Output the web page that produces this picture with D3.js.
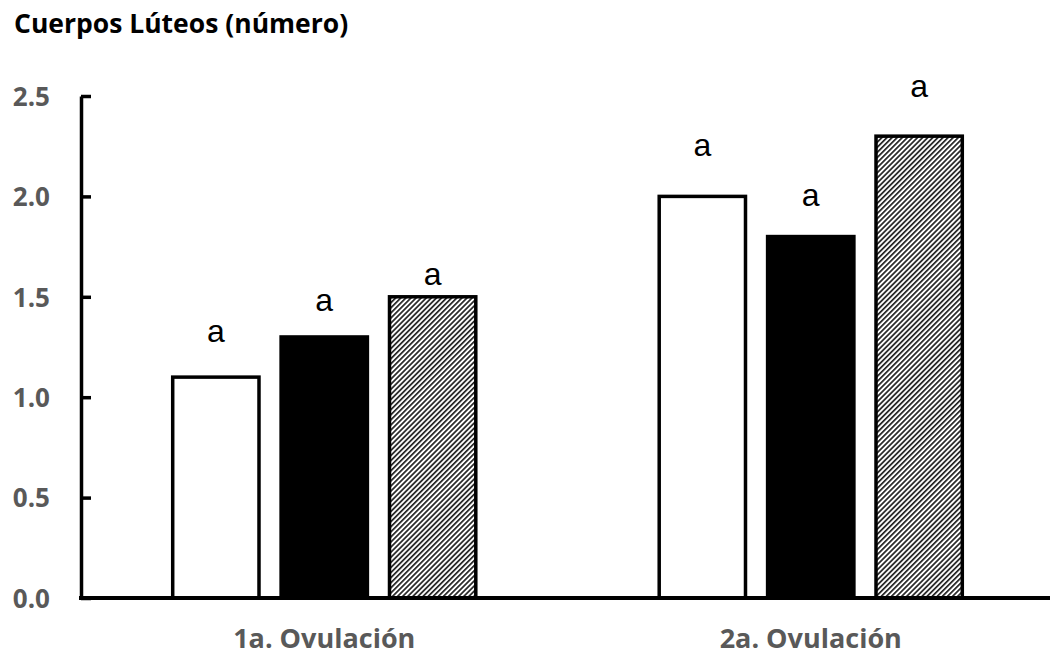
<!DOCTYPE html>
<html>
<head>
<meta charset="utf-8">
<script src="https://cdn.jsdelivr.net/npm/d3@7"></script>
<style>
  html, body { margin: 0; padding: 0; background: #fff; }
  svg { display: block; }
</style>
</head>
<body>
<svg id="chart" width="1050" height="656"></svg>
<script>
// Corpora lutea counts per ovulation and treatment
const groups = ["1a. Ovulación", "2a. Ovulación"];
const series = ["s1", "s2", "s3"];
const values = [
  [1.1, 1.3, 1.5],
  [2.0, 1.8, 2.3]
];
// Significance letters and the height (in data units) where each sits
const letters = [
  ["a", "a", "a"],
  ["a", "a", "a"]
];
const letterY = [
  [1.275, 1.43, 1.56],
  [2.2, 1.95, 2.495]
];
const yTicks = [0, 0.5, 1.0, 1.5, 2.0, 2.5];
const title = "Cuerpos Lúteos (número)";

const svg = d3.select("#chart");
const margin = { left: 81, right: 0, top: 96, bottom: 58 };
const W = 1050, H = 656;
const x0 = d3.scaleBand().domain(groups).range([margin.left, 1054]).paddingInner(0.377).paddingOuter(0.1885);
const x1 = d3.scaleBand().domain(series).range([0, x0.bandwidth()]).paddingInner(0.204).paddingOuter(0);
const y = d3.scaleLinear().domain([0, 2.5]).range([598, 96]);

// hatch fill for the third series
const defs = svg.append("defs");
const pat = defs.append("pattern")
  .attr("id", "hatch")
  .attr("patternUnits", "userSpaceOnUse")
  .attr("width", 3.6).attr("height", 10)
  .attr("patternTransform", "rotate(45)");
pat.append("rect").attr("width", 3.6).attr("height", 10).attr("fill", "#fff");
pat.append("rect").attr("width", 1.7).attr("height", 10).attr("fill", "#222");

const fills = { s1: "#fff", s2: "#000", s3: "url(#hatch)" };

// title
svg.append("text")
  .attr("x", 14).attr("y", 33)
  .attr("font-family", "'Open Sans', sans-serif")
  .attr("font-weight", "bold")
  .attr("font-size", 26.5)
  .attr("fill", "#000")
  .text(title);

// bars
const g = svg.append("g");
groups.forEach((grp, gi) => {
  series.forEach((s, si) => {
    const v = values[gi][si];
    g.append("rect")
      .attr("x", x0(grp) + x1(s))
      .attr("y", y(v))
      .attr("width", x1.bandwidth())
      .attr("height", y(0) - y(v))
      .attr("fill", fills[s])
      .attr("stroke", "#000")
      .attr("stroke-width", 3.5);
    g.append("text")
      .attr("x", x0(grp) + x1(s) + x1.bandwidth() / 2)
      .attr("y", y(letterY[gi][si]))
      .attr("text-anchor", "middle")
      .attr("font-family", "'Liberation Sans', Arial, sans-serif")
      .attr("font-size", 32)
      .attr("fill", "#000")
      .text(letters[gi][si]);
  });
});

// y axis with inward ticks
const yAxis = svg.append("g")
  .attr("transform", `translate(${margin.left},0)`)
  .call(d3.axisRight(y).tickValues(yTicks).tickFormat(d3.format(".1f")).tickSize(10).tickSizeOuter(0));
yAxis.select(".domain").attr("stroke", "#000").attr("stroke-width", 3.5);
yAxis.selectAll(".tick line").attr("stroke", "#000").attr("stroke-width", 3.5);
yAxis.selectAll(".tick text")
  .attr("x", -31)
  .attr("text-anchor", "end")
  .attr("dy", "0.36em")
  .attr("font-family", "'Open Sans', sans-serif")
  .attr("font-weight", "bold")
  .attr("font-size", 26)
  .attr("fill", "#595959");

// x axis
const xAxis = svg.append("g")
  .attr("transform", `translate(0,${y(0)})`)
  .call(d3.axisBottom(x0).tickSize(0).tickSizeOuter(0));
xAxis.select(".domain").attr("stroke", "#000").attr("stroke-width", 4)
  .attr("d", `M${margin.left - 2},0H${W}`);
xAxis.selectAll(".tick text")
  .attr("y", 50)
  .attr("dy", 0)
  .attr("font-family", "'Open Sans', sans-serif")
  .attr("font-weight", "bold")
  .attr("font-size", 27)
  .attr("fill", "#595959");
</script>
</body>
</html>
